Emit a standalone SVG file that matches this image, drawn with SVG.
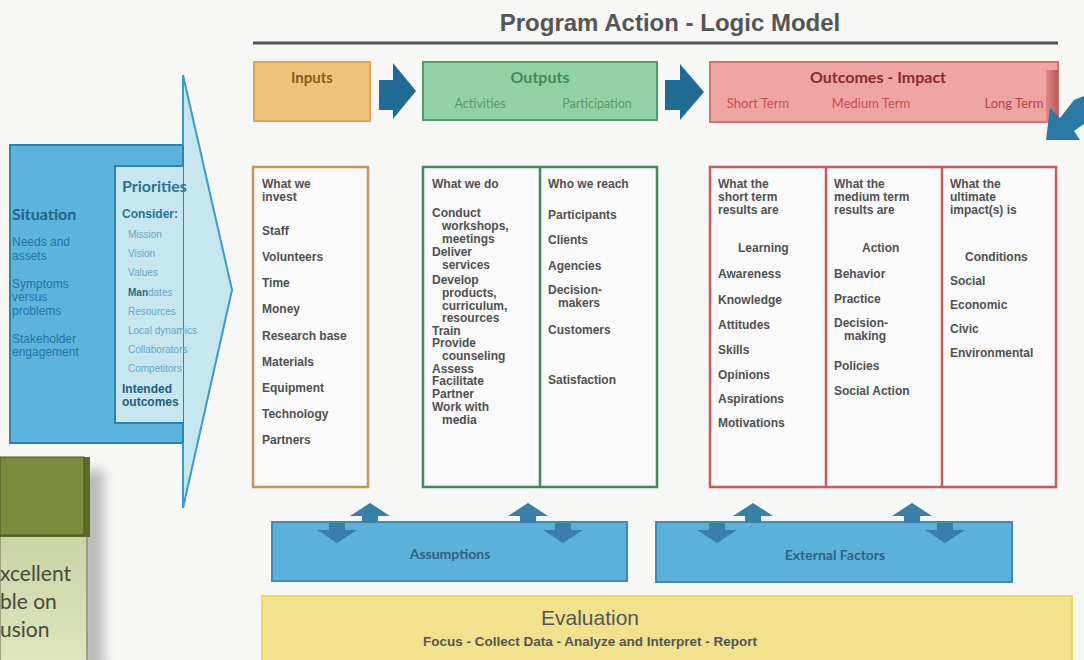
<svg xmlns="http://www.w3.org/2000/svg" width="1084" height="660" viewBox="0 0 1084 660">
<defs>
<filter id="shadow" x="-50%" y="-20%" width="200%" height="140%">
<feGaussianBlur stdDeviation="6"/>
</filter>
<linearGradient id="panelGrad" x1="0" y1="0" x2="0" y2="1">
<stop offset="0" stop-color="#c9d3a6"/>
<stop offset="1" stop-color="#dfe6c0"/>
</linearGradient>
<linearGradient id="tabGrad" x1="0" y1="0" x2="1" y2="0">
<stop offset="0" stop-color="#e08888"/>
<stop offset="1" stop-color="#b85a5a"/>
</linearGradient>
</defs>
<style>
.body{font-family:"Liberation Sans",Arial,sans-serif;font-weight:bold;font-size:12px;fill:#505050}
.hum{font-family:Lato,"Open Sans",sans-serif}
.col{fill:#fafafa;stroke-width:2.5}
.flow{fill:#1f6b93}
.sit{font-family:"Liberation Sans",Arial,sans-serif;font-size:12px;fill:#2674a4}
.pri{font-family:"Liberation Sans",Arial,sans-serif;font-size:10px;fill:#6aa8c4}
.dbl{fill:#3a7fa8}
</style>
<rect width="1084" height="660" fill="#f7f7f6"/>

<!-- Title -->
<g id="title">
<text x="670" y="31" text-anchor="middle" font-family="Liberation Sans,Arial,sans-serif" font-weight="bold" font-size="24" fill="#555">Program Action - Logic Model</text>
<line x1="253" y1="43" x2="1058" y2="43" stroke="#555" stroke-width="3"/>
</g>

<!-- Bottom-left panel -->
<g id="side-panel">
<rect x="80" y="470" width="24" height="200" fill="#888" opacity="0.55" filter="url(#shadow)"/>
<rect x="0" y="535" width="87" height="130" fill="url(#panelGrad)" stroke="#8a8f70" stroke-width="1.5"/>
<rect x="0" y="457" width="90" height="80" fill="#5d6b2a"/>
<rect x="0" y="457" width="84" height="78" fill="#7b8c3c" stroke="#4c5622" stroke-width="1"/>
<text class="hum" x="0" y="581" font-size="21" fill="#474a35">xcellent</text>
<text class="hum" x="0" y="609" font-size="21" fill="#474a35">ble on</text>
<text class="hum" x="0" y="637" font-size="21" fill="#474a35">usion</text>
</g>

<!-- Situation & Priorities -->
<g id="priorities">
<polygon points="183,75 232,290 183,508" fill="#c6e6f0" stroke="#3a9bcc" stroke-width="2"/>
</g>
<g id="situation">
<rect x="10" y="145" width="173" height="298" fill="#5cb3dc" stroke="#2d83b5" stroke-width="2"/>
<polygon points="115,166 183,166 183,423 115,423" fill="#c6e6f0"/>
<polyline points="183,166 115,166 115,423 183,423" fill="none" stroke="#2d83b5" stroke-width="2"/>
<line x1="183" y1="75" x2="183" y2="145" stroke="#3a9bcc" stroke-width="2"/>
<line x1="183" y1="443" x2="183" y2="508" stroke="#3a9bcc" stroke-width="2"/>
<text class="hum" x="12" y="220" font-weight="bold" font-size="16" fill="#1f6688">Situation</text>
<text class="sit" x="12" y="246">Needs and</text>
<text class="sit" x="12" y="260">assets</text>
<text class="sit" x="12" y="288">Symptoms</text>
<text class="sit" x="12" y="301">versus</text>
<text class="sit" x="12" y="315">problems</text>
<text class="sit" x="12" y="343">Stakeholder</text>
<text class="sit" x="12" y="356">engagement</text>
<text class="hum" x="122" y="192" font-weight="bold" font-size="16" fill="#2b7394">Priorities</text>
<text x="122" y="218" font-family="Liberation Sans,Arial,sans-serif" font-weight="bold" font-size="12" fill="#2b7394">Consider:</text>
<text class="pri" x="128" y="238">Mission</text>
<text class="pri" x="128" y="257">Vision</text>
<text class="pri" x="128" y="276">Values</text>
<text class="pri" x="128" y="296"><tspan font-weight="bold" fill="#2b6a88">Man</tspan>dates</text>
<text class="pri" x="128" y="315">Resources</text>
<text class="pri" x="128" y="334">Local dynamics</text>
<text class="pri" x="128" y="353">Collaborators</text>
<text class="pri" x="128" y="372">Competitors</text>
<text x="122" y="393" font-family="Liberation Sans,Arial,sans-serif" font-weight="bold" font-size="12" fill="#1f5f7c">Intended</text>
<text x="122" y="406" font-family="Liberation Sans,Arial,sans-serif" font-weight="bold" font-size="12" fill="#1f5f7c">outcomes</text>
</g>

<!-- Header boxes -->
<g id="inputs-header">
<rect x="254" y="62" width="116" height="59" fill="#f2c27a" stroke="#dba55a" stroke-width="2"/>
<text class="hum" x="312" y="83" text-anchor="middle" font-weight="bold" font-size="15" fill="#8d5a20">Inputs</text>
</g>
<g id="outputs-header">
<rect x="423" y="62" width="234" height="58" fill="#90d2a3" stroke="#4f9d6c" stroke-width="2"/>
<text class="hum" x="540" y="83" text-anchor="middle" font-weight="bold" font-size="16" fill="#3f8b58">Outputs</text>
<text class="hum" x="480" y="108" text-anchor="middle" font-size="12.5" fill="#5b9a70">Activities</text>
<text class="hum" x="597" y="108" text-anchor="middle" font-size="12.5" fill="#5b9a70">Participation</text>
</g>
<g id="outcomes-header">
<rect x="710" y="62" width="348" height="60" fill="#f0a5a5" stroke="#d47272" stroke-width="2"/>
<rect x="1046" y="70" width="12" height="53" fill="url(#tabGrad)"/>
<text class="hum" x="878" y="83" text-anchor="middle" font-weight="bold" font-size="16" fill="#8c2a2a">Outcomes - Impact</text>
<text class="hum" x="758" y="108" text-anchor="middle" font-size="13" fill="#c45252">Short Term</text>
<text class="hum" x="871" y="108" text-anchor="middle" font-size="13" fill="#c45252">Medium Term</text>
<text class="hum" x="1014" y="108" text-anchor="middle" font-size="13" fill="#b84444">Long Term</text>
</g>

<!-- Column boxes -->
<g id="inputs-column">
<rect class="col" x="253" y="167" width="115" height="320" stroke="#c6935a"/>
<g class="body">
<text x="262" y="188">What we</text>
<text x="262" y="201">invest</text>
<text x="262" y="235">Staff</text>
<text x="262" y="261">Volunteers</text>
<text x="262" y="287">Time</text>
<text x="262" y="313">Money</text>
<text x="262" y="340">Research base</text>
<text x="262" y="366">Materials</text>
<text x="262" y="392">Equipment</text>
<text x="262" y="418">Technology</text>
<text x="262" y="444">Partners</text>
</g>
</g>

<g id="outputs-columns">
<rect class="col" x="423" y="167" width="234" height="320" stroke="#3f8a5a"/>
<line x1="540" y1="167" x2="540" y2="487" stroke="#3f8a5a" stroke-width="2.5"/>
<g class="body">
<text x="432" y="188">What we do</text>
<text x="432" y="217">Conduct</text>
<text x="442" y="230">workshops,</text>
<text x="442" y="243">meetings</text>
<text x="432" y="256">Deliver</text>
<text x="442" y="269">services</text>
<text x="432" y="284">Develop</text>
<text x="442" y="297">products,</text>
<text x="442" y="310">curriculum,</text>
<text x="442" y="322">resources</text>
<text x="432" y="335">Train</text>
<text x="432" y="347">Provide</text>
<text x="442" y="360">counseling</text>
<text x="432" y="373">Assess</text>
<text x="432" y="385">Facilitate</text>
<text x="432" y="398">Partner</text>
<text x="432" y="411">Work with</text>
<text x="442" y="424">media</text>
<text x="548" y="188">Who we reach</text>
<text x="548" y="219">Participants</text>
<text x="548" y="244">Clients</text>
<text x="548" y="270">Agencies</text>
<text x="548" y="294">Decision-</text>
<text x="558" y="307">makers</text>
<text x="548" y="334">Customers</text>
<text x="548" y="384">Satisfaction</text>
</g>
</g>

<g id="outcomes-columns">
<rect class="col" x="710" y="167" width="346" height="320" stroke="#c85c5c"/>
<line x1="826" y1="167" x2="826" y2="487" stroke="#c85c5c" stroke-width="2.5"/>
<line x1="942" y1="167" x2="942" y2="487" stroke="#c85c5c" stroke-width="2.5"/>
<g class="body">
<text x="718" y="188">What the</text>
<text x="718" y="201">short term</text>
<text x="718" y="214">results are</text>
<text x="738" y="252">Learning</text>
<text x="718" y="278">Awareness</text>
<text x="718" y="304">Knowledge</text>
<text x="718" y="329">Attitudes</text>
<text x="718" y="354">Skills</text>
<text x="718" y="379">Opinions</text>
<text x="718" y="403">Aspirations</text>
<text x="718" y="427">Motivations</text>
<text x="834" y="188">What the</text>
<text x="834" y="201">medium term</text>
<text x="834" y="214">results are</text>
<text x="862" y="252">Action</text>
<text x="834" y="278">Behavior</text>
<text x="834" y="303">Practice</text>
<text x="834" y="327">Decision-</text>
<text x="844" y="340">making</text>
<text x="834" y="370">Policies</text>
<text x="834" y="395">Social Action</text>
<text x="950" y="188">What the</text>
<text x="950" y="201">ultimate</text>
<text x="950" y="214">impact(s) is</text>
<text x="965" y="261">Conditions</text>
<text x="950" y="285">Social</text>
<text x="950" y="309">Economic</text>
<text x="950" y="333">Civic</text>
<text x="950" y="357">Environmental</text>
</g>
</g>

<!-- Assumptions / External factors -->
<g id="assumptions">
<rect x="272" y="522" width="355" height="59" fill="#5bb1da" stroke="#3d8bb8" stroke-width="2"/>
<text class="hum" x="450" y="559" text-anchor="middle" font-weight="bold" font-size="14" fill="#2d6585">Assumptions</text>
</g>
<g id="external-factors">
<rect x="656" y="522" width="356" height="60" fill="#5bb1da" stroke="#3d8bb8" stroke-width="2"/>
<text class="hum" x="835" y="560" text-anchor="middle" font-weight="bold" font-size="14" fill="#2d6585">External Factors</text>
</g>

<!-- Evaluation -->
<g id="evaluation">
<rect x="262" y="596" width="810" height="70" fill="#f2e28e" stroke="#e8dc5a" stroke-width="2"/>
<text x="590" y="625" text-anchor="middle" font-family="Liberation Sans,Arial,sans-serif" font-size="21" fill="#555">Evaluation</text>
<text x="590" y="646" text-anchor="middle" font-family="Liberation Sans,Arial,sans-serif" font-weight="bold" font-size="13.5" fill="#555">Focus - Collect Data - Analyze and Interpret - Report</text>
</g>

<!-- Connectors -->
<g id="connectors">
<polygon class="flow" points="379,80 393,80 393,63 416,91 393,119 393,110 379,110"/>
<polygon class="flow" points="665,80 680,80 680,64 704,92 680,120 680,110 665,110"/>
<polygon points="1084,96 1084,124 1074,131 1080,140 1046,140 1050,108 1060,118 1074,100" fill="#2a7aa6"/>
<g class="dbl">
<polygon points="370,503 390,516 378,516 378,523 362,523 362,516 350,516"/>
<polygon points="337,543 317,530 329,530 329,523 345,523 345,530 357,530"/>
<polygon points="528,503 548,516 536,516 536,523 520,523 520,516 508,516"/>
<polygon points="563,543 543,530 555,530 555,523 571,523 571,530 583,530"/>
<polygon points="753,503 773,516 761,516 761,523 745,523 745,516 733,516"/>
<polygon points="717,543 697,530 709,530 709,523 725,523 725,530 737,530"/>
<polygon points="912,503 932,516 920,516 920,523 904,523 904,516 892,516"/>
<polygon points="945,543 925,530 937,530 937,523 953,523 953,530 965,530"/>
</g>
</g>
</svg>
